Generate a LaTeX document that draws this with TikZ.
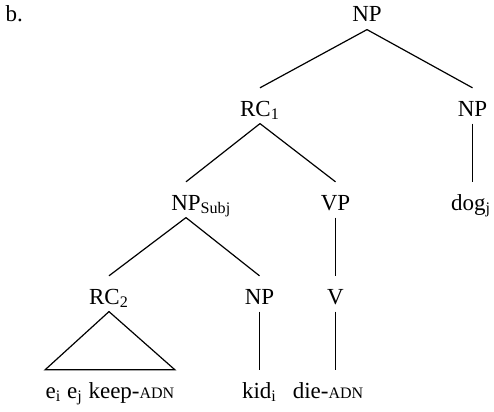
\documentclass[tikz,border=0pt]{standalone}
\usepackage{fontspec}
\setmainfont{Liberation Serif}
\newcommand{\gl}[1]{{\fontsize{8}{9}\selectfont #1}}

\begin{document}
\begin{tikzpicture}[x=0.5pt,y=-0.5pt,line width=0.6pt,
  every node/.style={font=\fontsize{11.5}{13}\selectfont,inner sep=0pt,
    text height=13.8pt,text depth=3.5pt,anchor=base}]
\useasboundingbox (0,0) rectangle (494,412);
\node (B) at (5,21) [anchor=base west] {b.};
\node (NP0) at (367,22) {NP};
\node (RC1) at (260,116) {RC\textsubscript{1}};
\node (NPr) at (472.5,116) {NP};
\node (NPs) at (186,210) {NP\rlap{\textsubscript{Subj}}};
\node (VP) at (335.5,210) {VP};
\node (dog) at (471,210) {dog\textsubscript{j}};
\node (RC2) at (109,304) {RC\textsubscript{2}};
\node (NPk) at (259.5,304) {NP};
\node (V) at (335.5,304) {V};
\node (keep) at (110,398) {e\textsubscript{i} e\textsubscript{j} keep-\gl{ADN}};
\node (kid) at (259.5,398) {kid\textsubscript{i}};
\node (die) at (328,398) {die-\gl{ADN}};
\path
(NP0.south) edge (RC1.north)
(NP0.south) edge (NPr.north)
(RC1.south) edge (NPs.north)
(RC1.south) edge (VP.north)
(NPr.south) edge (NPr.south |- dog.north)
(NPs.south) edge (RC2.north)
(NPs.south) edge (NPk.north)
(VP.south) edge (V.north)
(NPk.south) edge (kid.north)
(V.south) edge (V.south |- die.north);
\draw (RC2.south) -- (keep.north west) -- (keep.north east) -- cycle;
\end{tikzpicture}
\end{document}
